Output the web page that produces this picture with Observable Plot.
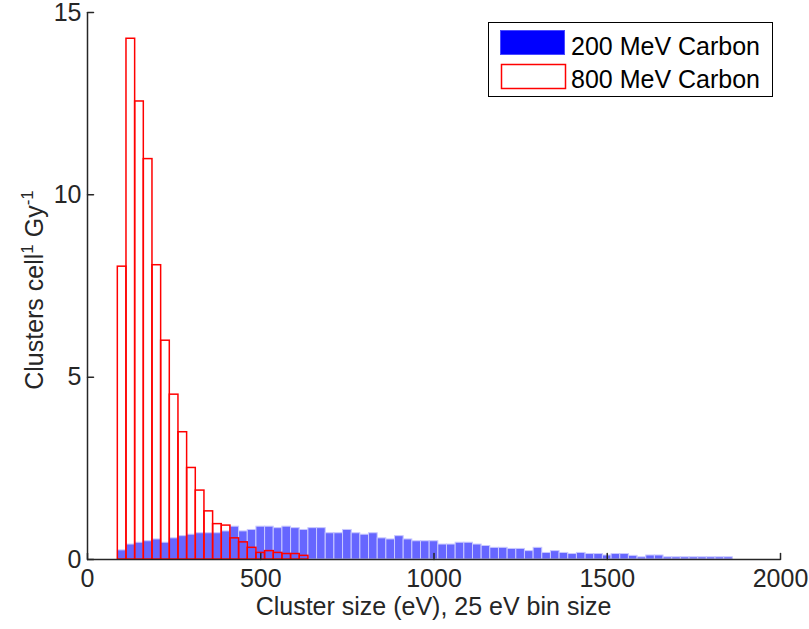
<!DOCTYPE html>
<html>
<head>
<meta charset="utf-8">
<script src="https://cdn.jsdelivr.net/npm/d3@7"></script>
<script src="https://cdn.jsdelivr.net/npm/@observablehq/plot@0.6"></script>
<style>
  body { margin: 0; background: #fff; }
  #chart { width: 809px; height: 629px; }
</style>
</head>
<body>
<div id="chart"></div>
<script>
// Cluster-size histograms (25 eV bins), clusters per cell per Gy
const blueBins = [
  100, 125, 150, 175, 200, 225, 250, 275, 300, 325, 350, 375, 400, 425, 450, 475,
  500, 525, 550, 575, 600, 625, 650, 675, 700, 725, 750, 775, 800, 825, 850, 875,
  900, 925, 950, 975, 1000, 1025, 1050, 1075, 1100, 1125, 1150, 1175, 1200, 1225,
  1250, 1275, 1300, 1325, 1350, 1375, 1400, 1425, 1450, 1475, 1500, 1525, 1550,
  1575, 1600, 1625, 1650, 1675, 1700, 1725, 1750, 1775, 1800, 1825, 1850
];
const blueValues = [
  0.25, 0.41, 0.46, 0.50, 0.55, 0.46, 0.58, 0.64, 0.68, 0.72, 0.72, 0.72, 0.77, 0.90, 0.77, 0.81,
  0.90, 0.90, 0.86, 0.90, 0.86, 0.81, 0.86, 0.86, 0.72, 0.72, 0.81, 0.72, 0.68, 0.72, 0.58, 0.55,
  0.64, 0.55, 0.50, 0.50, 0.50, 0.41, 0.41, 0.46, 0.46, 0.41, 0.37, 0.32, 0.32, 0.29,
  0.29, 0.23, 0.32, 0.18, 0.23, 0.18, 0.15, 0.18, 0.15, 0.15, 0.11, 0.15, 0.15,
  0.10, 0.06, 0.11, 0.11, 0.06, 0.06, 0.06, 0.06, 0.06, 0.06, 0.06, 0.06
];
const redBins = [
  100, 125, 150, 175, 200, 225, 250, 275, 300, 325, 350,
  375, 400, 425, 450, 475, 500, 525, 550, 575, 600, 625
];
const redValues = [
  8.03, 14.28, 12.56, 10.98, 8.07, 6.00, 4.52, 3.49, 2.51, 1.89, 1.32,
  0.97, 0.93, 0.58, 0.47, 0.32, 0.18, 0.23, 0.18, 0.15, 0.15, 0.10
];
const seriesNames = ["200 MeV Carbon", "800 MeV Carbon"];
const binWidth = 25;
const xTicks = [0, 500, 1000, 1500, 2000];
const yTicks = [0, 5, 10, 15];
const xLabel = "Cluster size (eV), 25 eV bin size";

const blue = blueBins.map((b, i) => ({bin: b, value: blueValues[i]}));
const red = redBins.map((b, i) => ({bin: b, value: redValues[i]}));

const axisColor = "#262626";
const font = "'Liberation Sans', Arial, sans-serif";

// inward tick: a plain line of length l pointing along the vector direction
const tickShape = {draw(context, l) { context.moveTo(0, 0); context.lineTo(0, -l); }};

const chart = Plot.plot({
  width: 809,
  height: 629,
  marginLeft: 87,
  marginRight: 29,
  marginTop: 12,
  marginBottom: 70,
  style: {fontFamily: font, fontSize: "25px", color: axisColor, background: "#fff", overflow: "visible"},
  x: {domain: [0, 2000]},
  y: {domain: [0, 15]},
  marks: [
    Plot.rectY(blue, {
      x1: d => d.bin - binWidth / 2, x2: d => d.bin + binWidth / 2, y: "value",
      fill: "#6666ff", stroke: "#c8c8ff", strokeWidth: 1
    }),
    Plot.rectY(red, {
      x1: d => d.bin - binWidth / 2, x2: d => d.bin + binWidth / 2, y: "value",
      fill: "none", stroke: "#ff0000", strokeWidth: 1.5
    }),
    Plot.ruleX([0], {stroke: axisColor, strokeWidth: 1.5}),
    Plot.ruleY([0], {stroke: axisColor, strokeWidth: 1.5}),
    Plot.axisX(xTicks, {tickSize: 0, tickPadding: 10, label: null, tickFormat: d => String(d)}),
    Plot.axisY(yTicks, {tickSize: 0, tickPadding: 6, label: null, tickFormat: d => String(d)}),
    Plot.vector(xTicks, {x: d => d, y: 0, length: 6, rotate: 0, anchor: "start", shape: tickShape, stroke: axisColor, strokeWidth: 1.5}),
    Plot.vector(yTicks, {x: 0, y: d => d, length: 6, rotate: 90, anchor: "start", shape: tickShape, stroke: axisColor, strokeWidth: 1.5})
  ]
});

document.getElementById("chart").appendChild(chart);

const svg = d3.select(chart);

// x-axis title
svg.append("text")
  .attr("x", 433.5).attr("y", 615)
  .attr("text-anchor", "middle")
  .attr("font-family", font).attr("font-size", 25).attr("fill", axisColor)
  .text(xLabel);

// y-axis title with superscripts
const yl = svg.append("text")
  .attr("transform", "translate(43,290) rotate(-90)")
  .attr("text-anchor", "middle")
  .attr("font-family", font).attr("font-size", 25).attr("fill", axisColor);
yl.append("tspan").text("Clusters cell");
yl.append("tspan").attr("dy", -10).attr("font-size", 17).text("1");
yl.append("tspan").attr("dy", 10).text(" Gy");
yl.append("tspan").attr("dy", -10).attr("font-size", 17).text("-1");

// legend box
const lg = svg.append("g")
  .attr("font-family", font).attr("font-size", 25).attr("fill", "#000")
  .attr("text-anchor", "start");
lg.append("rect").attr("x", 488.5).attr("y", 22.5).attr("width", 284).attr("height", 74)
  .attr("fill", "#fff").attr("stroke", "#000").attr("stroke-width", 1);
lg.append("rect").attr("x", 500.5).attr("y", 30.5).attr("width", 64).attr("height", 24)
  .attr("fill", "#0000ff").attr("stroke", "#4a4aff").attr("stroke-width", 1);
lg.append("rect").attr("x", 501.5).attr("y", 64.5).attr("width", 64).attr("height", 24)
  .attr("fill", "#fff").attr("stroke", "#ff0000").attr("stroke-width", 1.5);
lg.append("text").attr("x", 571).attr("y", 55).text(seriesNames[0]);
lg.append("text").attr("x", 571).attr("y", 88).text(seriesNames[1]);
</script>
</body>
</html>
